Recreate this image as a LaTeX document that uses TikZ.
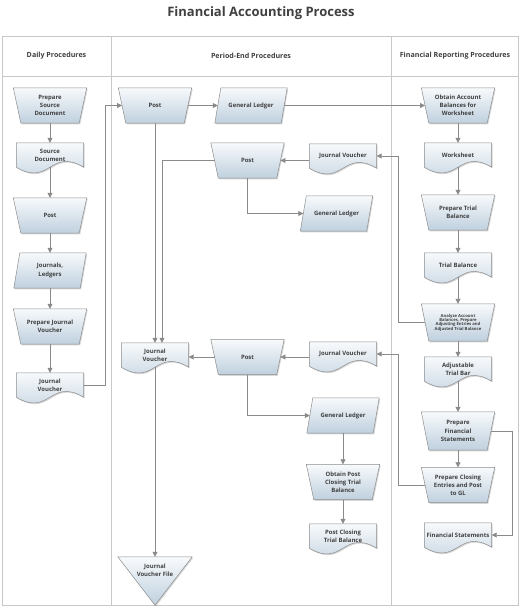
\documentclass[tikz,border=0pt]{standalone}
\usepackage{fontspec}
\setmainfont{Open Sans}
\usetikzlibrary{arrows.meta,calc,shadows}
\pgfdeclarelayer{bg}
\pgfsetlayers{bg,main}
\definecolor{lanec}{HTML}{C8C8C8}
\definecolor{cconn}{HTML}{8A8A8A}
\definecolor{shtop}{HTML}{F8FAFC}
\definecolor{shbot}{HTML}{BFD0DE}
\definecolor{bord}{HTML}{8C8C8C}
\definecolor{txt}{HTML}{404040}
\tikzset{
 base/.style={inner sep=0pt, align=center, text=txt, font=\fontsize{5.95}{8.2}\selectfont\bfseries},
 trapn/.style={base, minimum width=65.5pt, minimum height=35pt},
 paran/.style={base, minimum width=66pt, minimum height=35pt},
 docn/.style={base, minimum width=67pt, minimum height=24pt},
 trin/.style={base, minimum width=74pt, minimum height=26pt},
 shp/.style={draw=bord, line width=0.5pt, top color=shtop, bottom color=shbot,
   drop shadow={shadow xshift=1pt, shadow yshift=-1.2pt, fill=black!45, opacity=0.35}},
 conn/.style={draw=cconn, line width=0.8pt, -{Triangle[length=5pt,width=5pt]}},
 lanel/.style={draw=lanec, line width=0.8pt},
 hdr/.style={font=\fontsize{7.1}{8}\selectfont\bfseries, text=txt},
}
\newcommand\trapS[1]{\path[shp] ($(#1.north west)+(-3.75,0)$) -- ($(#1.north east)+(3.75,0)$) -- ($(#1.south east)+(-3.75,0)$) -- ($(#1.south west)+(3.75,0)$) -- cycle;}
\newcommand\paraS[1]{\path[shp] ($(#1.north west)+(3,0)$) -- ($(#1.north east)+(3,0)$) -- ($(#1.south east)+(-3,0)$) -- ($(#1.south west)+(-3,0)$) -- cycle;}
\newcommand\docS[1]{\path[shp] (#1.north west) -- (#1.north east) -- (#1.south east) .. controls ($(#1.south)+(0,-20)$) and ($(#1.south)+(0,20)$) .. (#1.south west) -- cycle;}
\newcommand\triS[1]{\path[shp] (#1.north west) -- (#1.north east) -- ($(#1.south)+(0,22)$) -- cycle;}
\begin{document}
\begin{tikzpicture}[x=1pt,y=-1pt]
\useasboundingbox (0,0) rectangle (522,610);
% title and headers
\node[font=\fontsize{13}{15}\selectfont\bfseries, text=txt] (title) at (261,13) {Financial Accounting Process};
\node[hdr] (h1) at (56.5,56) {Daily Procedures};
\node[hdr] (h2) at (251,56) {Period-End Procedures};
\node[hdr] (h3) at (455,56) {Financial Reporting Procedures};
% left lane
\node[trapn] (L1) at (50,105.5) {Prepare\\Source\\Document};
\node[docn] (L2) at (50,155) {Source\\Document};
\node[trapn] (L3) at (50,215.5) {Post};
\node[paran] (L4) at (50,270.5) {Journals,\\Ledgers};
\node[trapn] (L5) at (50,326.5) {Prepare Journal\\Voucher};
\node[docn] (L6) at (50,385) {Journal\\Voucher};
% middle lane
\node[trapn] (M1) at (155,105.5) {Post};
\node[paran] (M2) at (251,105.5) {General Ledger};
\node[trapn] (M3) at (247.5,160.5) {Post};
\node[docn] (M4) at (343,156) {Journal Voucher};
\node[paran] (M5) at (336.5,213.5) {General Ledger};
\node[docn] (Jm) at (155,355) {Journal\\Voucher};
\node[trapn] (M6) at (247.5,357) {Post};
\node[docn] (M7) at (343,354) {Journal Voucher};
\node[paran] (M8) at (343,415.5) {General Ledger};
\node[trapn] (M9) at (343,482) {Obtain Post\\Closing Trial\\Balance};
\node[docn] (M10) at (343,536) {Post Closing\\Trial Balance};
\node[trin] (M11) at (155,570) {Journal\\Voucher File};
% right lane
\node[trapn] (R1) at (458,105.5) {Obtain Account\\Balances for\\Worksheet};
\node[docn] (R2) at (458,155) {Worksheet};
\node[trapn] (R3) at (458,212.5) {Prepare Trial\\Balance};
\node[docn] (R4) at (458,265) {Trial Balance};
\node[trapn, minimum height=37pt, font=\fontsize{4.2}{4.3}\selectfont\bfseries] (R5) at (458,322.5) {Analyze Account\\Balances, Prepare\\Adjusting Entries and\\Adjusted Trial Balance};
\node[docn] (R6) at (458,369) {Adjustable\\Trial Bar};
\node[trapn, minimum height=38pt] (R7) at (458,431) {Prepare\\Financial\\Statements};
\node[trapn] (R8) at (458,485) {Prepare Closing\\Entries and Post\\to GL};
\node[docn] (R9) at (458,535) {Financial Statements};
% background: lanes and shapes
\begin{pgfonlayer}{bg}
\path[lanel] (2,36) rectangle (518,605);
\path[lanel] (2,76) -- (518,76);
\path[lanel] (111,36) -- (111,605);
\path[lanel] (391,36) -- (391,605);
\trapS{L1} \docS{L2} \trapS{L3} \paraS{L4} \trapS{L5} \docS{L6}
\trapS{M1} \paraS{M2} \trapS{M3} \docS{M4} \paraS{M5} \docS{Jm}
\trapS{M6} \docS{M7} \paraS{M8} \trapS{M9} \docS{M10} \triS{M11}
\trapS{R1} \docS{R2} \trapS{R3} \docS{R4} \trapS{R5} \docS{R6}
\trapS{R7} \trapS{R8} \docS{R9}
\end{pgfonlayer}
% connectors
\draw[conn] (L1) -- (L2);
\draw[conn] (L2) -- (L3);
\draw[conn] (L3) -- (L4);
\draw[conn] (L4) -- (L5);
\draw[conn] (L5) -- (L6);
\draw[conn] (L6.east) -- ++(22,0) |- (M1.west);
\draw[conn] (M1.east) -- (M2.west);
\draw[conn] (M2.east) -- (R1.west);
\draw[conn] (M1.south) -- (Jm.north);
\draw[conn] (M3.west) -| ([xshift=7pt]Jm.north);
\draw[conn] (M3.east -| M4.west) -- (M3.east);
\draw[conn] (M3.south) |- (M5.west);
\draw[conn] (R5.west) -- ++(-27,0) |- (M4.east);
\draw[conn] (R8.west) -- ++(-27,0) |- (M7.east);
\draw[conn] (M6.east -| M7.west) -- (M6.east);
\draw[conn] (M6.west) -- (M6.west -| Jm.east);
\draw[conn] (M6.south) |- (M8.west);
\draw[conn] (M8) -- (M9);
\draw[conn] (M9) -- (M10);
\draw[conn] (Jm.south) -- (M11.north);
\draw[conn] (R1) -- (R2);
\draw[conn] (R2) -- (R3);
\draw[conn] (R3) -- (R4);
\draw[conn] (R4) -- (R5);
\draw[conn] (R5) -- (R6);
\draw[conn] (R6) -- (R7);
\draw[conn] (R7) -- (R8);
\draw[conn] (R7.east) -- ++(21,0) |- (R9.east);
\end{tikzpicture}
\end{document}
